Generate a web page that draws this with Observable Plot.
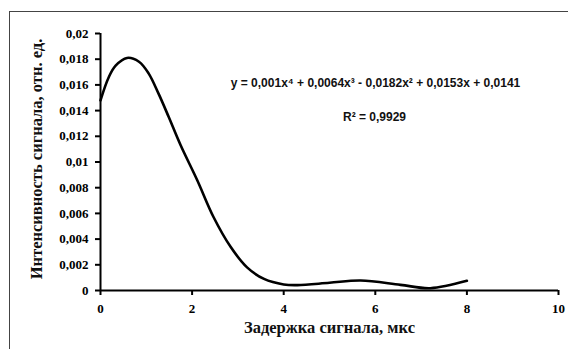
<!DOCTYPE html>
<html><head><meta charset="utf-8">
<script src="https://cdn.jsdelivr.net/npm/d3@7"></script>
<script src="https://cdn.jsdelivr.net/npm/@observablehq/plot@0.6"></script>
<style>
html,body{margin:0;padding:0;background:#fff;}
#wrap{position:relative;width:568px;height:349px;overflow:hidden;}
#border{position:absolute;left:9px;top:11px;width:600px;height:400px;border-left:1.5px solid #444;border-top:1.5px solid #444;pointer-events:none;}
</style>
</head><body>
<div id="wrap"><div id="border"></div></div>
<script>
const delay = [0, 0.18, 0.33, 0.58, 0.84, 1.05, 1.27, 1.49, 1.75, 2.11, 2.47, 2.84, 3.2, 3.57, 4.0, 4.3, 5.0, 5.68, 6.55, 7.2, 8.0];
const intensity = [0.0148, 0.0166, 0.0175, 0.0181, 0.0178, 0.0169, 0.0153, 0.0135, 0.0113, 0.0086, 0.0057, 0.0034, 0.0018, 0.0009, 0.00047, 0.00042, 0.0006, 0.00078, 0.00044, 0.00018, 0.00075];
const xTicks = [0, 2, 4, 6, 8, 10];
const yTicks = [0, 0.002, 0.004, 0.006, 0.008, 0.01, 0.012, 0.014, 0.016, 0.018, 0.02];
const equation = "y = 0,001x⁴ + 0,0064x³ - 0,0182x² + 0,0153x + 0,0141";
const r2 = "R² = 0,9929";
const xLabel = "Задержка сигнала, мкс";
const yLabel = "Интенсивность сигнала, отн. ед.";

const data = delay.map((d, i) => ({x: d, y: intensity[i]}));
const fmt = d => String(d).replace(".", ",");
const serif = "'Liberation Serif', 'Times New Roman', serif";
const sans = "'Liberation Sans', Arial, sans-serif";

const chart = Plot.plot({
  width: 568, height: 349,
  marginLeft: 100, marginRight: 10, marginTop: 33, marginBottom: 59,
  style: {background: "transparent", color: "#000"},
  x: {domain: [0, 10]},
  y: {domain: [0, 0.02]},
  marks: [
    Plot.axisX({ticks: xTicks, tickFormat: d => String(d), tickSize: 5, tickPadding: 8, label: null,
      fontFamily: serif, fontSize: 13, fontWeight: "bold", strokeWidth: 2}),
    Plot.axisY({ticks: yTicks, tickFormat: fmt, tickSize: 5, tickPadding: 7, label: null,
      fontFamily: serif, fontSize: 13, fontWeight: "bold", strokeWidth: 2}),
    Plot.text([xLabel], {frameAnchor: "bottom", lineAnchor: "middle", dy: 37, text: d => d,
      fontFamily: serif, fontSize: 16.5, fontWeight: "bold", fill: "#111"}),
    Plot.text([yLabel], {frameAnchor: "left", textAnchor: "middle", lineAnchor: "middle", dx: -64, dy: -3, rotate: -90, text: d => d,
      fontFamily: serif, fontSize: 16.5, fontWeight: "bold", fill: "#111"}),
    Plot.ruleY([0], {stroke: "#000", strokeWidth: 2}),
    Plot.ruleX([0], {stroke: "#000", strokeWidth: 2}),
    Plot.line(data, {x: "x", y: "y", curve: "catmull-rom", stroke: "#000", strokeWidth: 2.6}),
    Plot.text([equation], {frameAnchor: "top", dx: 46, dy: 45, text: d => d,
      fontFamily: sans, fontSize: 12, fontWeight: "bold", fill: "#111"}),
    Plot.text([r2], {frameAnchor: "top", dx: 45, dy: 79, text: d => d,
      fontFamily: sans, fontSize: 12, fontWeight: "bold", fill: "#111"})
  ]
});
chart.style.position = "absolute";
chart.style.left = "0";
chart.style.top = "0";
document.getElementById("wrap").prepend(chart);
</script>
</body></html>
